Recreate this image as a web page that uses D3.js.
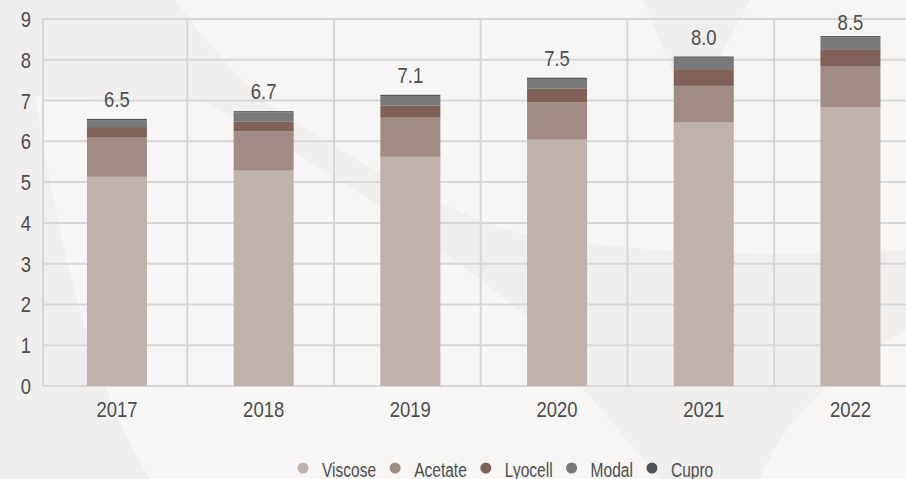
<!DOCTYPE html>
<html lang="en">
<head>
    <meta charset="UTF-8">
    <title>Man-made cellulosic fibres</title>
    <style>
        body { margin: 0; background: #f7f6f4; }
        svg { display: block; }
        text { font-family: "Liberation Sans", Arial, sans-serif; fill: #4d4d4d; }
    </style>
</head>
<body>
    <script src="https://cdn.jsdelivr.net/npm/d3@7"></script>
    <script>

        var width = 906,
            height = 479;

        var years = ["2017", "2018", "2019", "2020", "2021", "2022"];
        var series = ["Viscose", "Acetate", "Lyocell", "Modal", "Cupro"];
        var colors = ["#bfb1ac", "#a08c84", "#806259", "#77797b", "#505356"];

        var viscose = [5.13, 5.28, 5.62, 6.04, 6.46, 6.84];
        var acetate = [0.96, 0.97, 0.96, 0.92, 0.90, 0.99];
        var lyocell = [0.26, 0.23, 0.30, 0.34, 0.41, 0.43];
        var modal   = [0.17, 0.23, 0.23, 0.23, 0.28, 0.29];
        var cupro   = [0.03, 0.03, 0.03, 0.03, 0.03, 0.03];
        var totals  = ["6.5", "6.7", "7.1", "7.5", "8.0", "8.5"];
        var yTicks  = [0, 1, 2, 3, 4, 5, 6, 7, 8, 9];

        var rows = years.map(function(yr, i) {
            return { year: yr, Viscose: viscose[i], Acetate: acetate[i], Lyocell: lyocell[i], Modal: modal[i], Cupro: cupro[i] };
        });

        var x = d3.scaleBand()
            .domain(years)
            .range([43.6, 923.8])
            .padding(0);

        var barW = 60;

        var y = d3.scaleLinear()
            .domain([0, 9])
            .range([386, 19]);

        var color = d3.scaleOrdinal().domain(series).range(colors);

        // narrow text: the original face is a condensed one
        var numScale = 0.84,
            legScale = 0.74;

        function place(px, py, s) {
            return "translate(" + px + "," + py + ") scale(" + s + ",1)";
        }

        var svg = d3.select("body").append("svg")
            .attr("width", width)
            .attr("height", height);

        // background swooshes (darker areas on the light page)
        var bg = svg.append("g").attr("fill", "#f0efee");
        bg.append("path")
            .attr("d", "M0,0 L175,0 C205,40 235,75 262,100 C350,160 450,215 527,235 " +
                       "C650,255 800,258 906,250 L906,330 C820,380 780,430 760,479 L660,479 " +
                       "L580,385 L527,317 C420,230 300,150 200,100 L35,97 C60,250 90,380 150,479 L0,479 Z");
        bg.append("path")
            .attr("d", "M643,0 L750,0 L690,115 Z");

        // horizontal grid
        svg.append("g")
            .selectAll("line")
            .data(yTicks)
            .enter().append("line")
            .attr("x1", 43)
            .attr("x2", width)
            .attr("y1", function(d) { return y(d); })
            .attr("y2", function(d) { return y(d); })
            .attr("stroke", "#d6d7d6")
            .attr("stroke-width", 2);

        // vertical grid
        svg.append("g")
            .selectAll("line")
            .data(years.slice(0, 5))
            .enter().append("line")
            .attr("x1", function(d) { return x(d) + x.step() - 3; })
            .attr("x2", function(d) { return x(d) + x.step() - 3; })
            .attr("y1", y(9))
            .attr("y2", y(0))
            .attr("stroke", "#d6d7d6")
            .attr("stroke-width", 2);

        svg.append("line")
            .attr("x1", 43).attr("x2", 43)
            .attr("y1", y(9)).attr("y2", y(0))
            .attr("stroke", "#d6d7d6")
            .attr("stroke-width", 2);

        // y tick labels
        svg.append("g")
            .selectAll("text")
            .data(yTicks)
            .enter().append("text")
            .attr("transform", function(d) { return place(31, y(d) + 8, numScale); })
            .attr("text-anchor", "end")
            .attr("font-size", 22)
            .text(function(d) { return d; });

        // stacked bars
        var stack = d3.stack().keys(series);
        var layers = stack(rows);

        svg.append("g")
            .selectAll("g")
            .data(layers)
            .enter().append("g")
            .attr("fill", function(d) { return color(d.key); })
            .selectAll("rect")
            .data(function(d) { return d; })
            .enter().append("rect")
            .attr("x", function(d) { return x(d.data.year) + (x.bandwidth() - barW) / 2; })
            .attr("y", function(d) { return y(d[1]); })
            .attr("width", barW)
            .attr("height", function(d) { return y(d[0]) - y(d[1]); });

        // total labels
        svg.append("g")
            .selectAll("text")
            .data(layers[layers.length - 1])
            .enter().append("text")
            .attr("transform", function(d) {
                return place(x(d.data.year) + x.bandwidth() / 2, Math.max(y(d[1]) - 12, 30), numScale);
            })
            .attr("text-anchor", "middle")
            .attr("font-size", 22)
            .text(function(d, i) { return totals[i]; });

        // x labels
        svg.append("g")
            .selectAll("text")
            .data(years)
            .enter().append("text")
            .attr("transform", function(d) { return place(x(d) + x.bandwidth() / 2, 417, numScale); })
            .attr("text-anchor", "middle")
            .attr("font-size", 22)
            .text(function(d) { return d; });

        // legend
        var legend = svg.append("g");
        var lx = 303;
        series.forEach(function(s) {
            legend.append("circle")
                .attr("cx", lx)
                .attr("cy", 468)
                .attr("r", 5.5)
                .attr("fill", color(s));
            var t = legend.append("text")
                .attr("transform", place(lx + 19, 477, legScale))
                .attr("font-size", 21)
                .text(s);
            lx = lx + 19 + t.node().getComputedTextLength() * legScale + 19;
        });

    </script>
</body>
</html>
